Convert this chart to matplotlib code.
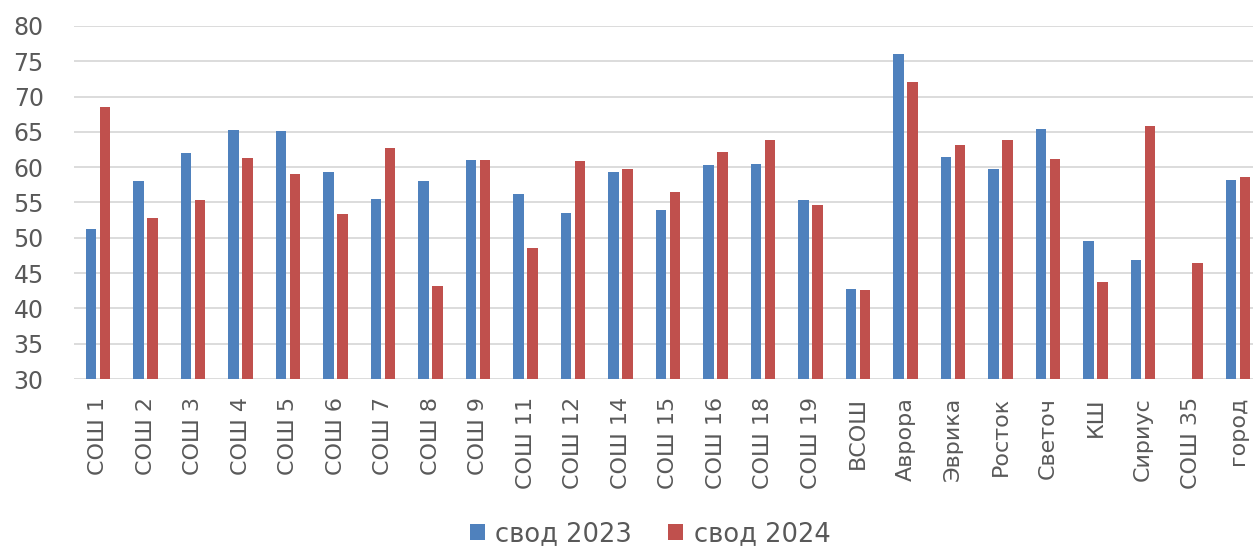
import numpy as np
import matplotlib.pyplot as plt

categories = ["СОШ 1", "СОШ 2", "СОШ 3", "СОШ 4", "СОШ 5", "СОШ 6", "СОШ 7",
              "СОШ 8", "СОШ 9", "СОШ 11", "СОШ 12", "СОШ 14", "СОШ 15",
              "СОШ 16", "СОШ 18", "СОШ 19", "ВСОШ", "Аврора", "Эврика",
              "Росток", "Светоч", "КШ", "Сириус", "СОШ 35", "город"]
svod_2023 = [51.2, 58.0, 62.0, 65.3, 65.1, 59.3, 55.5, 58.0, 61.0, 56.2, 53.5,
             59.3, 54.0, 60.3, 60.5, 55.4, 42.7, 76.1, 61.4, 59.7, 65.4, 49.5,
             46.8, np.nan, 58.2]
svod_2024 = [68.5, 52.8, 55.3, 61.3, 59.1, 53.4, 62.7, 43.2, 61.0, 48.5, 60.9,
             59.7, 56.5, 62.2, 63.9, 54.7, 42.6, 72.1, 63.2, 63.9, 61.1, 43.8,
             65.9, 46.4, 58.6]
yticks = list(range(30, 81, 5))

BLUE = "#4F81BD"
RED = "#C0504D"
TEXT = "#595959"
GRID = "#D9D9D9"

plt.rcParams["font.family"] = ["DejaVu Sans"]

fig = plt.figure(figsize=(12.53, 5.47), dpi=100)
ax = fig.add_axes([0.0593, 0.3071, 0.9477, 0.6454])

x = np.arange(len(categories))
w = 0.22
off = 0.147
ax.bar(x - off, svod_2023, w, color=BLUE, label="свод 2023", zorder=3)
ax.bar(x + off, svod_2024, w, color=RED, label="свод 2024", zorder=3)

ax.set_xlim(-0.5, len(categories) - 0.5)
ax.set_ylim(30, 80)
ax.set_yticks(yticks)
ax.yaxis.grid(True, color=GRID, linewidth=1.3, zorder=0)
ax.set_axisbelow(True)
for s in ax.spines.values():
    s.set_visible(False)

ax.set_xticks(x)
ax.set_xticklabels(categories, rotation=90, fontsize=16, color=TEXT)
ax.tick_params(axis="x", length=0, pad=13)
ax.tick_params(axis="y", length=0, pad=22, labelsize=17, labelcolor=TEXT)

leg = fig.legend(loc="center", bbox_to_anchor=(650 / 1253, 0.024), ncol=2,
                 frameon=False, fontsize=18.5, handlelength=0.6, handleheight=0.6,
                 handletextpad=0.4, columnspacing=1.4)
for t in leg.get_texts():
    t.set_color(TEXT)

fig.savefig("out.png", dpi=100)
